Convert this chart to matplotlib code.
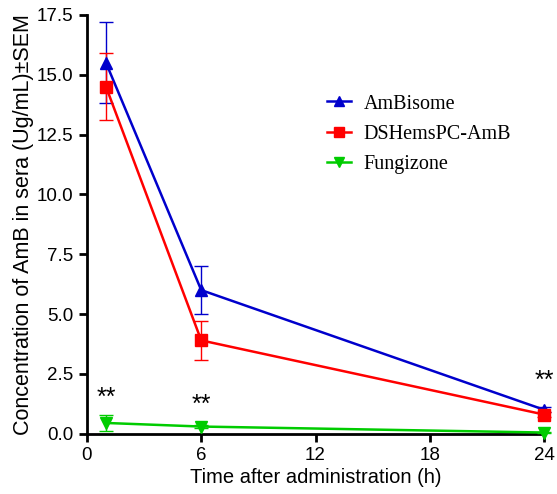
import numpy as np
import matplotlib
matplotlib.use('Agg')
from matplotlib import pyplot as plt
from matplotlib.lines import Line2D

# 数据
time_h = [1, 6, 24]
ambisome = [15.5, 6.0, 1.0]
ambisome_err = [1.7, 1.0, 0.1]
dshems = [14.5, 3.9, 0.8]
dshems_err = [1.4, 0.8, 0.1]
fungizone = [0.45, 0.3, 0.05]
fungizone_err = [0.35, 0.05, 0.02]
star_x = [1, 6, 24]
star_y = [1.5, 1.2, 2.2]

plt.rcParams['font.family'] = ['Liberation Sans', 'DejaVu Sans']

fig = plt.figure(figsize=(5.57, 4.94), dpi=100)
ax = fig.add_axes([0.156, 0.122, 0.821, 0.848])

series = [
    ('AmBisome', ambisome, ambisome_err, '#0000cc', '^'),
    ('DSHemsPC-AmB', dshems, dshems_err, '#ff0000', 's'),
    ('Fungizone', fungizone, fungizone_err, '#00cc00', 'v'),
]
handles = []
for name, y, err, c, m in series:
    ax.errorbar(time_h, y, yerr=err, color=c, marker=m, markersize=8,
                linewidth=1.8, elinewidth=1.0, capsize=5, capthick=1.0,
                ecolor=c, clip_on=False, zorder=3)
    handles.append(Line2D([], [], color=c, marker=m, markersize=7, linewidth=1.8, label=name))

for x, y in zip(star_x, star_y):
    ax.text(x, y, '**', ha='center', va='center', fontsize=18, clip_on=False)

ax.set_xlim(0, 24)
ax.set_ylim(0, 17.5)
ax.set_xticks([0, 6, 12, 18, 24])
ax.set_yticks(np.arange(0, 17.6, 2.5))
ax.set_yticklabels(['%.1f' % v for v in np.arange(0, 17.6, 2.5)])
ax.tick_params(labelsize=13.5, width=2, length=6, direction='out')
for s in ['top', 'right']:
    ax.spines[s].set_visible(False)
for s in ['left', 'bottom']:
    ax.spines[s].set_linewidth(2)

ax.set_xlabel('Time after administration (h)', fontsize=14.5, labelpad=3)
ax.set_ylabel('Concentration of AmB in sera (Ug/mL)±SEM', fontsize=15.5, labelpad=2)

ax.legend(handles=handles, loc='upper left', bbox_to_anchor=(0.524, 0.81), frameon=False,
          prop={'family': 'Liberation Serif', 'size': 14.5}, handlelength=1.2,
          handletextpad=0.65, labelspacing=0.55, borderpad=0, borderaxespad=0)

plt.savefig('out.png', dpi=100)
